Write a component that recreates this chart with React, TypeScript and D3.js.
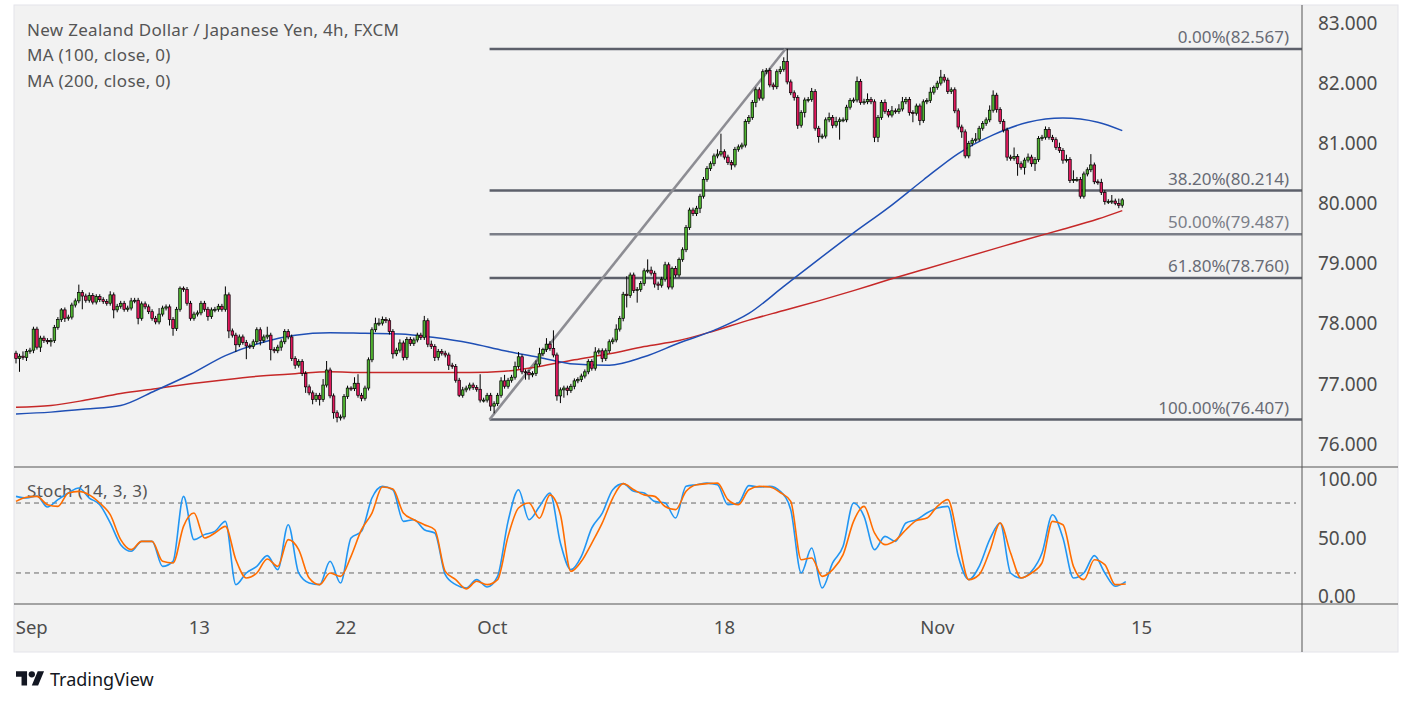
import * as d3 from 'd3'

// candle closes, 4h bars (open = previous close)
const firstOpen = 77.51
const closes = [
  77.42, 77.46, 77.44, 77.54, 77.56, 77.91, 77.61, 77.76, 77.72, 77.70,
  77.72, 77.94, 78.07, 78.23, 78.09, 78.11, 78.31, 78.38, 78.52, 78.46,
  78.39, 78.47, 78.36, 78.45, 78.40, 78.37, 78.34, 78.48, 78.23, 78.29,
  78.34, 78.24, 78.26, 78.38, 78.39, 78.09, 78.33, 78.28, 78.20, 78.09,
  78.03, 78.16, 78.26, 78.28, 78.07, 77.92, 78.24, 78.59, 78.57, 78.34,
  78.09, 78.16, 78.18, 78.34, 78.24, 78.12, 78.23, 78.24, 78.29, 78.24,
  78.48, 77.88, 77.81, 77.65, 77.78, 77.69, 77.63, 77.62, 77.70, 77.90,
  77.72, 77.78, 77.81, 77.57, 77.55, 77.61, 77.70, 77.87, 77.78, 77.42,
  77.31, 77.37, 77.17, 76.95, 76.85, 76.74, 76.81, 76.74, 76.98, 77.23,
  76.80, 76.52, 76.44, 76.45, 76.79, 76.93, 76.92, 77.01, 76.81, 76.76,
  76.93, 77.40, 77.90, 78.00, 78.01, 78.07, 78.05, 77.87, 77.50, 77.56,
  77.68, 77.44, 77.74, 77.67, 77.73, 77.81, 77.77, 78.05, 77.66, 77.62,
  77.44, 77.54, 77.51, 77.48, 77.31, 77.29, 77.06, 76.81, 76.90, 76.93,
  76.98, 76.94, 76.91, 76.73, 76.73, 76.81, 76.63, 76.67, 76.81, 77.05,
  76.96, 77.06, 77.11, 77.29, 77.45, 77.20, 77.19, 77.15, 77.17, 77.33,
  77.50, 77.57, 77.66, 77.59, 77.48, 76.80, 76.90, 76.93, 76.89, 76.96,
  77.05, 77.07, 77.13, 77.20, 77.37, 77.26, 77.53, 77.55, 77.42, 77.55,
  77.70, 77.73, 77.91, 78.09, 78.49, 78.47, 78.81, 78.55, 78.57, 78.67,
  78.88, 78.89, 78.84, 78.66, 78.64, 78.74, 78.98, 78.61, 78.92, 78.81,
  79.07, 79.23, 79.60, 79.89, 79.83, 79.92, 80.12, 80.40, 80.58, 80.66,
  80.79, 80.82, 80.86, 80.77, 80.68, 80.64, 80.90, 80.94, 80.97, 81.36,
  81.43, 81.68, 81.89, 81.75, 82.19, 82.21, 81.97, 81.94, 82.19, 82.23,
  82.36, 82.02, 81.84, 81.76, 81.30, 81.51, 81.72, 81.73, 81.86, 81.25,
  81.11, 81.12, 81.39, 81.43, 81.30, 81.36, 81.39, 81.39, 81.60, 81.71,
  81.72, 82.03, 81.68, 81.69, 81.73, 81.69, 81.10, 81.43, 81.68, 81.53,
  81.47, 81.54, 81.53, 81.57, 81.69, 81.73, 81.51, 81.50, 81.62, 81.38,
  81.69, 81.71, 81.85, 81.93, 82.00, 82.10, 82.05, 81.86, 81.89, 81.54,
  81.27, 81.19, 80.79, 81.00, 81.05, 81.07, 81.25, 81.33, 81.39, 81.55,
  81.80, 81.56, 81.36, 81.22, 80.77, 80.75, 80.78, 80.66, 80.60, 80.72,
  80.77, 80.66, 80.73, 81.08, 81.10, 81.23, 81.10, 81.06, 80.93, 80.88,
  80.72, 80.73, 80.38, 80.40, 80.40, 80.12, 80.49, 80.56, 80.64, 80.36,
  80.35, 80.18, 80.03, 80.03, 80.04, 80.00, 79.97, 80.06,
]

// wick lengths above / below the body, in hundredths of a yen
const upperWick = [
  4, 4, 8, 4, 4, 4, 4, 4, 4, 4, 4, 4, 4, 3, 4, 4, 4, 4, 13, 4,
  4, 5, 4, 4, 4, 4, 4, 6, 4, 4, 4, 4, 4, 5, 4, 4, 4, 4, 4, 4,
  4, 10, 4, 4, 4, 4, 4, 3, 3, 4, 4, 4, 4, 4, 4, 4, 4, 4, 4, 4,
  14, 4, 4, 4, 4, 4, 4, 4, 4, 4, 4, 4, 14, 4, 4, 4, 4, 4, 4, 4,
  4, 4, 4, 4, 4, 4, 4, 4, 10, 15, 4, 4, 4, 4, 4, 4, 3, 10, 15, 4,
  4, 4, 4, 10, 8, 5, 4, 4, 4, 4, 6, 4, 4, 4, 4, 4, 4, 8, 4, 6,
  4, 4, 4, 4, 4, 4, 4, 4, 5, 4, 4, 4, 4, 25, 4, 4, 4, 4, 4, 6,
  10, 4, 4, 8, 8, 4, 4, 4, 4, 6, 10, 3, 10, 5, 30, 4, 4, 4, 4, 4,
  4, 4, 4, 4, 4, 4, 8, 4, 4, 4, 4, 4, 8, 4, 4, 30, 4, 4, 4, 4,
  4, 18, 6, 4, 4, 4, 5, 4, 3, 4, 3, 4, 4, 4, 4, 4, 4, 4, 4, 4,
  4, 8, 30, 4, 4, 4, 4, 4, 4, 4, 4, 4, 4, 4, 4, 4, 4, 4, 4, 5,
  7, 21, 4, 4, 4, 4, 4, 4, 6, 4, 4, 4, 4, 8, 4, 8, 4, 4, 4, 4,
  4, 8, 4, 5, 10, 4, 4, 4, 4, 5, 4, 8, 4, 8, 8, 4, 4, 4, 4, 4,
  4, 4, 8, 3, 4, 12, 5, 4, 4, 4, 4, 4, 4, 4, 4, 10, 4, 4, 4, 8,
  8, 4, 4, 4, 4, 4, 15, 4, 4, 4, 6, 4, 4, 4, 4, 5, 4, 4, 4, 8,
  4, 8, 4, 15, 4, 4, 4, 4, 18, 4, 4, 6, 4, 4, 10, 4, 8, 3,
]
const lowerWick = [
  8, 22, 4, 6, 4, 5, 4, 8, 4, 4, 8, 4, 4, 4, 6, 4, 4, 4, 4, 22,
  4, 4, 4, 4, 4, 4, 4, 4, 14, 4, 4, 4, 4, 4, 4, 10, 4, 4, 4, 4,
  4, 4, 4, 4, 10, 12, 4, 4, 4, 4, 4, 4, 4, 4, 4, 7, 4, 4, 4, 4,
  4, 12, 4, 12, 4, 4, 22, 4, 4, 4, 8, 4, 4, 18, 4, 4, 6, 4, 4, 4,
  6, 4, 4, 10, 4, 8, 4, 10, 4, 4, 4, 10, 8, 5, 4, 4, 4, 4, 4, 5,
  4, 4, 4, 4, 4, 4, 4, 5, 8, 4, 4, 5, 4, 4, 4, 4, 4, 4, 5, 4,
  6, 5, 4, 4, 8, 4, 4, 3, 4, 4, 4, 4, 4, 4, 4, 4, 8, 12, 4, 4,
  4, 4, 4, 4, 4, 4, 12, 8, 4, 4, 4, 4, 4, 4, 4, 8, 12, 13, 8, 4,
  5, 4, 4, 4, 4, 4, 4, 4, 6, 4, 4, 4, 4, 4, 5, 20, 4, 4, 20, 4,
  4, 4, 4, 6, 8, 4, 4, 4, 4, 4, 4, 4, 4, 4, 4, 4, 8, 4, 4, 4,
  4, 4, 4, 4, 4, 8, 4, 4, 4, 4, 4, 4, 8, 4, 4, 4, 4, 5, 4, 4,
  4, 4, 4, 5, 6, 4, 8, 4, 4, 4, 10, 4, 4, 4, 5, 4, 30, 4, 4, 4,
  4, 4, 4, 4, 4, 4, 8, 8, 4, 4, 4, 4, 4, 4, 4, 4, 5, 15, 4, 8,
  4, 4, 4, 4, 4, 4, 4, 4, 4, 4, 4, 10, 4, 4, 5, 4, 4, 4, 4, 4,
  4, 5, 4, 4, 6, 4, 4, 20, 4, 12, 4, 5, 12, 4, 4, 4, 4, 4, 4, 4,
  6, 4, 4, 4, 4, 4, 4, 4, 4, 4, 4, 4, 5, 4, 4, 3, 5, 4,
]

// moving averages, read every 10 bars
const maIdx = [0, 10, 20, 30, 40, 50, 60, 70, 80, 90, 100, 110, 120, 130, 140, 150, 160,
  170, 180, 190, 200, 210, 220, 230, 240, 250, 260, 270, 280, 290, 300, 310, 317]
const ma100 = [76.50, 76.53, 76.58, 76.64, 76.89, 77.16, 77.47, 77.68, 77.81, 77.85, 77.84,
  77.83, 77.77, 77.68, 77.55, 77.44, 77.33, 77.31, 77.45, 77.68, 77.89, 78.17, 78.62,
  79.07, 79.51, 79.93, 80.39, 80.83, 81.14, 81.35, 81.42, 81.35, 81.21]
const ma200 = [76.61, 76.64, 76.73, 76.84, 76.92, 77.00, 77.07, 77.13, 77.17, 77.20, 77.19,
  77.19, 77.19, 77.19, 77.21, 77.29, 77.40, 77.50, 77.62, 77.72, 77.88, 78.06, 78.22,
  78.38, 78.55, 78.73, 78.90, 79.07, 79.24, 79.41, 79.57, 79.74, 79.88]

// stochastic (14, 3, 3), read every 3 bars
const stochStep = 3
const stochK = [
  85.7, 84.3, 86, 76.6, 82.9, 88.6, 92.9, 84.3, 78.6, 62.9, 44.3, 38.6, 47.1, 47.1,
  25.7, 30, 85.7, 48.6, 52.9, 55.7, 64.3, 10, 20, 25.7, 34.9, 22.9, 61.4, 20,
  11.4, 10, 30, 11.4, 50, 55.7, 84.3, 94.3, 91.4, 64.3, 65.7, 57.1, 54.3, 18.6,
  10, 7.1, 14.3, 8, 17.1, 64.3, 91.4, 65.7, 77, 88.6, 45.7, 22.9, 34.3,
  58.6, 71.4, 91.4, 96.6, 90, 88.6, 81.4, 80, 67.1, 94.3, 95.7, 97.1, 95.7, 78.6,
  80, 94.9, 93.7, 94.3, 90, 74.3, 20, 41.4, 7.1, 28.6, 42.9, 80,
  68.6, 40, 51.4, 47.1, 62.9, 65.7, 71.4, 75.7, 77.1, 34.3, 14.3, 25.7, 48.6,
  62.9, 20, 15.7, 21.4, 37.1, 70, 50, 15.7, 20, 34.9, 20, 8.6, 12.6,
]
const stochD = [
  81.4, 85, 85.7, 78.6, 77.1, 88.6, 90, 87, 80, 70, 48.6, 40, 47.1, 47.1,
  30, 28.6, 60, 71.4, 50, 54.3, 60, 31.4, 15.7, 20, 32, 25.7, 48.6, 40,
  15.7, 10, 20, 17.1, 34.3, 57.1, 71.4, 93.7, 92, 71.4, 65.7, 61.4, 57.1, 21.4,
  14.3, 6.3, 12.9, 10, 14.3, 51.4, 75.7, 80, 67, 87, 70, 21.4, 30,
  45.7, 62.9, 84.3, 96.6, 91.4, 87, 85.7, 77, 74.3, 90, 95.7, 96.6, 97.1, 82.9,
  78.6, 91.4, 94.3, 93.7, 89, 81.4, 31.4, 32.9, 17.1, 22.9, 35.7, 64.3,
  77.1, 54.3, 44.3, 48, 57.1, 64.9, 67.1, 77.1, 82.9, 48.6, 14.3, 18.6, 38.6,
  62.9, 37.1, 15.7, 20, 28.6, 64.3, 61.4, 25.7, 14.3, 31.4, 27.1, 10, 10.6,
]

const priceTicks = [76, 77, 78, 79, 80, 81, 82, 83]
const stochTicks = [0, 50, 100]
const stochBands = [20, 80]
const timeTickIdx = [4.5, 52.5, 94.5, 136.5, 203, 264, 322.5]
const timeTickLabels = ['Sep', '13', '22', 'Oct', '18', 'Nov', '15']

const fibLow = { idx: 135.7, price: 76.407 }
const fibHigh = { idx: 220.5, price: 82.567 }
const fibRatios = [0, 0.382, 0.5, 0.618, 1]

const legendLines = [
  'New Zealand Dollar / Japanese Yen, 4h, FXCM',
  'MA (100, close, 0)',
  'MA (200, close, 0)',
]

const W = 1413
const H = 705
const FONT = "'Noto Sans', sans-serif"

export default function App() {
  const left = 14
  const right = 1398
  const axisX = 1302
  const top = 5
  const priceBottom = 467
  const stochBottom = 604
  const bottom = 652

  const x = d3.scaleLinear().domain([0, 368.5]).range([16, axisX])
  const yP = d3.scaleLinear().domain([76, 83]).range([444, 23])
  const yS = d3.scaleLinear().domain([0, 100]).range([596.3, 479.7])

  const candles = closes.map((c, i) => {
    const o = i === 0 ? firstOpen : closes[i - 1]
    const hi = Math.max(o, c) + upperWick[i] / 100
    const lo = Math.min(o, c) - lowerWick[i] / 100
    return { i, o, c, hi, lo }
  })

  const maLine = d3.line<number>()
    .x((_, i) => x(maIdx[i]))
    .y(d => yP(d))
    .curve(d3.curveMonotoneX)

  const stochLine = d3.line<number>()
    .x((_, i) => x(i * stochStep))
    .y(d => yS(d))
    .curve(d3.curveMonotoneX)

  const fibRange = fibHigh.price - fibLow.price
  const fibs = fibRatios.map(r => {
    const p = fibHigh.price - fibRange * r
    return { r, p, label: `${(r * 100).toFixed(2)}%(${p.toFixed(3)})` }
  })

  return (
    <svg width={W} height={H} style={{ position: 'absolute', left: 0, top: 0, background: '#fff' }}
      fontFamily={FONT}>
      <defs>
        <clipPath id="pricePane">
          <rect x={left} y={top} width={axisX - left} height={priceBottom - top} />
        </clipPath>
        <clipPath id="stochPane">
          <rect x={left} y={priceBottom} width={axisX - left} height={stochBottom - priceBottom} />
        </clipPath>
      </defs>

      <rect x={left} y={top} width={right - left} height={bottom - top} fill="#f2f2f2" stroke="#e4e4ea" />

      {/* legend */}
      {legendLines.map((t, i) => (
        <text key={t} x={27} y={35.5 + i * 25.5} fontSize={17} letterSpacing={0.3} fill="#555">{t}</text>
      ))}

      <g clipPath="url(#pricePane)">
        {/* fibonacci retracement */}
        {fibs.map(f => (
          <g key={f.r}>
            <line x1={x(fibLow.idx)} x2={axisX} y1={yP(f.p)} y2={yP(f.p)}
              stroke={f.r === 0.5 ? '#7b7e88' : '#5d606b'} strokeWidth={2.4} />
            <text x={1289} y={yP(f.p) - 6} textAnchor="end" fontSize={17}
              fill={f.r === 0.5 ? '#7b7e88' : '#686b75'}>{f.label}</text>
          </g>
        ))}
        <line x1={x(fibLow.idx)} y1={yP(fibLow.price)} x2={x(fibHigh.idx)} y2={yP(fibHigh.price)}
          stroke="#8d8d93" strokeWidth={2.6} />

        {/* moving averages */}
        <path d={maLine(ma200) ?? ''} fill="none" stroke="#c62828" strokeWidth={1.5} />
        <path d={maLine(ma100) ?? ''} fill="none" stroke="#1f4fb5" strokeWidth={1.5} />

        {/* candles */}
        {candles.map(d => {
          const cx = x(d.i)
          const yTop = yP(Math.max(d.o, d.c))
          const yBot = yP(Math.min(d.o, d.c))
          const up = d.c >= d.o
          return (
            <g key={d.i}>
              <line x1={cx} x2={cx} y1={yP(d.hi)} y2={yP(d.lo)} stroke="#000" strokeWidth={1} />
              <rect x={cx - 1.3} y={yTop} width={2.6} height={Math.max(1, yBot - yTop)}
                fill={up ? '#4fb330' : '#e0195d'} stroke="#000" strokeWidth={0.7} />
            </g>
          )
        })}
      </g>

      {/* stochastic pane */}
      <text x={27} y={497} fontSize={17} letterSpacing={0.3} fill="#555">Stoch (14, 3, 3)</text>
      {stochBands.map(b => (
        <line key={b} x1={16} x2={1296} y1={yS(b)} y2={yS(b)} stroke="#666" strokeWidth={1}
          strokeDasharray="5 4" />
      ))}
      <g clipPath="url(#stochPane)">
        <path d={stochLine(stochK) ?? ''} fill="none" stroke="#2196f3" strokeWidth={1.6} />
        <path d={stochLine(stochD) ?? ''} fill="none" stroke="#ff6d00" strokeWidth={1.6} />
      </g>

      {/* pane separators */}
      <line x1={axisX} x2={axisX} y1={top} y2={bottom} stroke="#555" strokeWidth={1} />
      <line x1={left} x2={right} y1={priceBottom} y2={priceBottom} stroke="#555" strokeWidth={1} />
      <line x1={left} x2={right} y1={stochBottom} y2={stochBottom} stroke="#555" strokeWidth={1} />

      {/* right axes */}
      {priceTicks.map(t => (
        <text key={t} x={1318} y={yP(t)} dy="0.35em" fontSize={19} fill="#4d4d4d">{t.toFixed(3)}</text>
      ))}
      {stochTicks.map(t => (
        <text key={t} x={1318} y={yS(t)} dy="0.35em" fontSize={19} fill="#4d4d4d">{t.toFixed(2)}</text>
      ))}

      {/* time axis */}
      {timeTickIdx.map((t, i) => (
        <text key={timeTickLabels[i]} x={x(t)} y={634} textAnchor="middle" fontSize={18.5}
          fill="#4d4d4d">{timeTickLabels[i]}</text>
      ))}

      {/* TradingView mark */}
      <g transform="translate(16,668) scale(0.79)" fill="#131722">
        <path d="M14 22H7V11H0V4h14v18zM28 22h-8l7.5-18h8L28 22z" />
        <circle cx={20} cy={8} r={4} />
      </g>
      <text x={50} y={686} fontSize={18} fill="#131722">TradingView</text>
    </svg>
  )
}
